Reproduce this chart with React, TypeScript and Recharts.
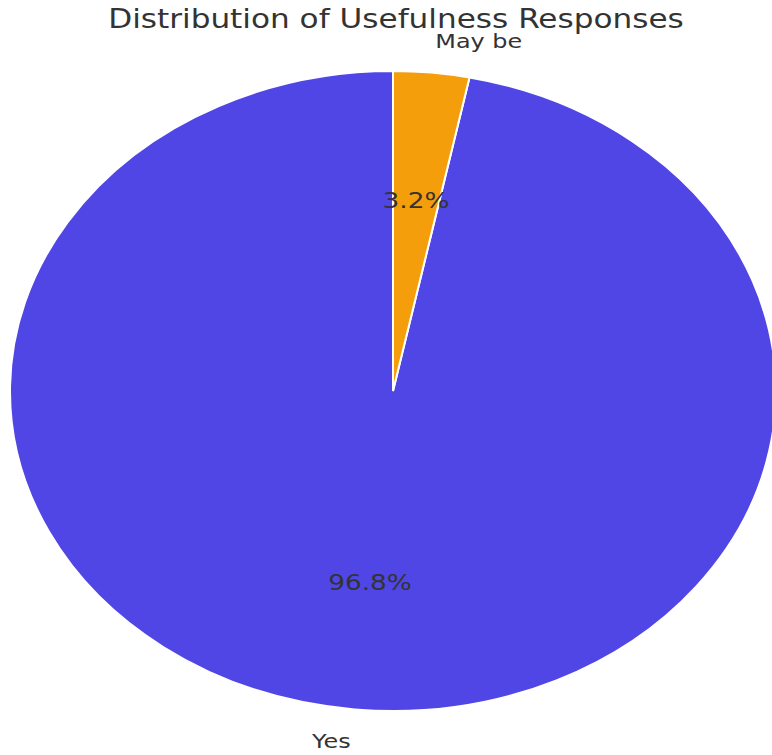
import { PieChart, Pie, Cell } from "recharts"

const categories = ["Yes", "May be"]
const values = [96.8, 3.2]
const colors = ["#4F46E5", "#F59E0B"]

const data = categories.map((name, i) => ({ name, value: values[i] }))

const W = 772
const H = 755
const CX = 393
const CY = 391
const RY = 320
const RX = 383
// the reference is stretched sideways, the pie and the text alike
const SX = RX / RY
const RADIAN = Math.PI / 180

const renderLabel = (props: any) => {
  const { cx, cy, midAngle, outerRadius, percent, name } = props
  const c = Math.cos(-midAngle * RADIAN)
  const s = Math.sin(-midAngle * RADIAN)
  const ox = cx + SX * outerRadius * 1.1 * c
  const oy = cy + outerRadius * 1.1 * s
  const ix = cx + SX * outerRadius * 0.6 * c
  const iy = cy + outerRadius * 0.6 * s
  return (
    <g>
      <text
        transform={`translate(${ox} ${oy}) scale(${SX} 1)`}
        fill="#333"
        fontSize={20}
        textAnchor={c >= 0 ? "start" : "end"}
        dominantBaseline="central"
      >
        {name}
      </text>
      <text
        transform={`translate(${ix} ${iy}) scale(${SX} 1)`}
        fill="#333"
        fontSize={22}
        textAnchor="middle"
        dominantBaseline="central"
      >
        {(percent * 100).toFixed(1)}%
      </text>
    </g>
  )
}

export default function App() {
  return (
    <div
      style={{
        position: "absolute",
        left: 0,
        top: 0,
        width: W,
        height: H,
        background: "#fff",
        fontFamily: "'DejaVu Sans', sans-serif",
        overflow: "hidden",
      }}
    >
      <style>{`
        .recharts-pie-sector path {
          transform: scaleX(${SX});
          transform-origin: ${CX}px ${CY}px;
          vector-effect: non-scaling-stroke;
        }
      `}</style>
      <div
        style={{
          position: "absolute",
          left: 396,
          top: 3,
          whiteSpace: "nowrap",
          transform: `translateX(-50%) scaleX(${SX})`,
          fontSize: 26,
          color: "#333",
          lineHeight: "32px",
        }}
      >
        Distribution of Usefulness Responses
      </div>
      <PieChart width={W} height={H} margin={{ top: 0, right: 0, bottom: 0, left: 0 }}>
        <Pie
          data={data}
          dataKey="value"
          nameKey="name"
          cx={CX}
          cy={CY}
          outerRadius={RY}
          startAngle={90}
          endAngle={450}
          stroke="#fff"
          strokeWidth={2}
          label={renderLabel}
          labelLine={false}
          isAnimationActive={false}
        >
          {data.map((d, i) => (
            <Cell key={d.name} fill={colors[i]} />
          ))}
        </Pie>
      </PieChart>
    </div>
  )
}
